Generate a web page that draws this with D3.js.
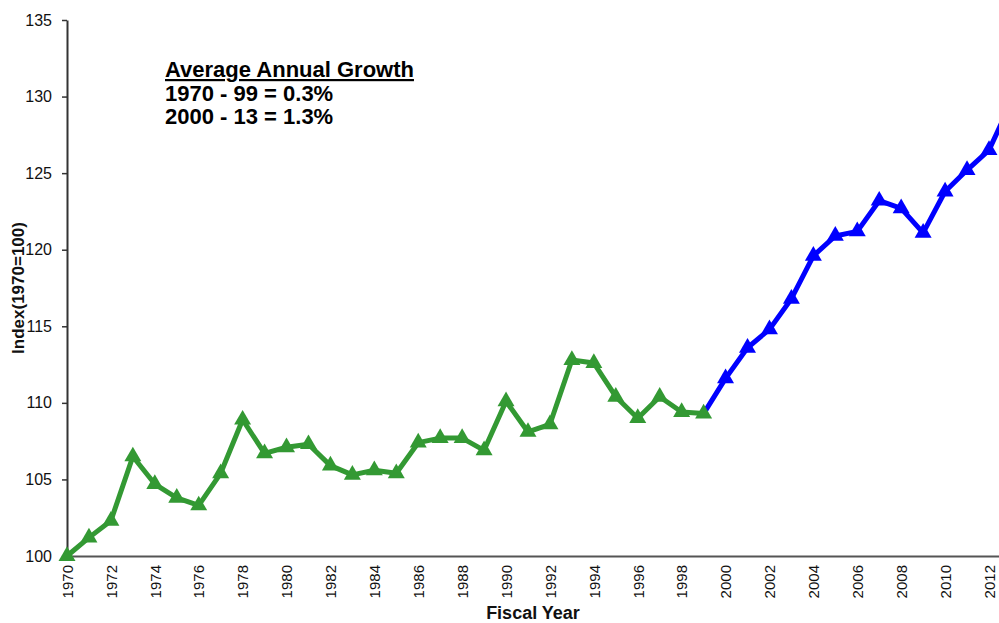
<!DOCTYPE html>
<html>
<head>
<meta charset="utf-8">
<script src="https://cdn.jsdelivr.net/npm/d3@7/dist/d3.min.js"></script>
<style>
  html, body { margin: 0; padding: 0; background: #fff; }
  svg { display: block; }
  text { font-family: "Liberation Sans", Arial, sans-serif; }
</style>
</head>
<body>
<svg id="chart" width="999" height="623"></svg>
<script>
// Fiscal years and index values (1970 = 100)
const years = [1970, 1971, 1972, 1973, 1974, 1975, 1976, 1977, 1978, 1979,
               1980, 1981, 1982, 1983, 1984, 1985, 1986, 1987, 1988, 1989,
               1990, 1991, 1992, 1993, 1994, 1995, 1996, 1997, 1998, 1999,
               2000, 2001, 2002, 2003, 2004, 2005, 2006, 2007, 2008, 2009,
               2010, 2011, 2012, 2013];
const indexValues = [100.0, 101.2, 102.3, 106.5, 104.7, 103.8, 103.3, 105.4, 108.9, 106.7,
                     107.1, 107.3, 105.9, 105.3, 105.6, 105.4, 107.4, 107.7, 107.7, 106.9,
                     110.1, 108.1, 108.6, 112.8, 112.6, 110.4, 109.0, 110.4, 109.4, 109.3,
                     111.6, 113.6, 114.8, 116.8, 119.6, 120.9, 121.2, 123.2, 122.7, 121.1,
                     123.8, 125.2, 126.5, 129.6];
const earlyEnd = 1999;          // last year of the 1970-99 period
const yTicks = [100, 105, 110, 115, 120, 125, 130, 135];
const xTicks = d3.range(1970, 2014, 2);
const noteLines = ["Average Annual Growth", "1970 - 99 = 0.3%", "2000 - 13 = 1.3%"];

const data = years.map((yr, i) => ({ year: yr, value: indexValues[i] }));
const early = data.filter(d => d.year <= earlyEnd);
const late = data.filter(d => d.year >= earlyEnd);

const svg = d3.select("#chart");
const plotLeft = 67, plotTop = 20, plotBottom = 556;
const fontStack = "'Liberation Sans', Arial, sans-serif";

const x = d3.scaleLinear().domain([1970, 2013]).range([plotLeft, plotLeft + 43 * 21.952]);
const y = d3.scaleLinear().domain([100, 135]).range([plotBottom, plotTop]);

// y axis
const yAxis = svg.append("g")
  .attr("transform", `translate(${plotLeft},0)`)
  .call(d3.axisLeft(y).tickValues(yTicks).tickSize(5).tickSizeOuter(0).tickPadding(10));
yAxis.select(".domain").attr("stroke", "#333").attr("stroke-width", 2);
yAxis.selectAll(".tick line").attr("stroke", "#333").attr("stroke-width", 1.5);
yAxis.selectAll(".tick text")
  .style("font-size", "16px").style("font-family", fontStack).attr("fill", "#111");

// x axis
const xAxis = svg.append("g")
  .attr("transform", `translate(0,${plotBottom})`)
  .call(d3.axisBottom(x).tickValues(xTicks).tickFormat(d3.format("d")).tickSize(0).tickSizeOuter(0));
xAxis.select(".domain").attr("stroke", "#555").attr("stroke-width", 2);
xAxis.selectAll(".tick text")
  .style("font-size", "15px").style("font-family", fontStack).attr("fill", "#111")
  .attr("text-anchor", "end")
  .attr("transform", "rotate(-90)")
  .attr("x", -9).attr("y", 0).attr("dy", "0.35em");

// axis titles
svg.append("text")
  .attr("transform", `translate(24,${(plotTop + plotBottom) / 2}) rotate(-90)`)
  .attr("text-anchor", "middle")
  .style("font-size", "17px").attr("font-weight", "bold").attr("fill", "#111")
  .text("Index(1970=100)");

svg.append("text")
  .attr("x", 533).attr("y", 619)
  .attr("text-anchor", "middle")
  .style("font-size", "18px").attr("font-weight", "bold").attr("fill", "#111")
  .text("Fiscal Year");

// series lines
const line = d3.line().x(d => x(d.year)).y(d => y(d.value));
const green = "#339933", blue = "#0000ff";

svg.append("path").datum(late)
  .attr("d", line).attr("fill", "none")
  .attr("stroke", blue).attr("stroke-width", 5).attr("stroke-linejoin", "round");
svg.append("path").datum(early)
  .attr("d", line).attr("fill", "none")
  .attr("stroke", green).attr("stroke-width", 5).attr("stroke-linejoin", "round");

// triangle markers
const tri = d3.symbol().type(d3.symbolTriangle).size(125);
svg.append("g").selectAll("path")
  .data(data)
  .join("path")
  .attr("d", tri)
  .attr("transform", d => `translate(${x(d.year)},${y(d.value)})`)
  .attr("fill", d => d.year <= earlyEnd ? green : blue);

// growth note
const note = svg.append("g");
noteLines.forEach((t, i) => {
  note.append("text")
    .attr("x", 165).attr("y", 77 + i * 23.5)
    .style("font-size", "22px").attr("font-weight", "bold").attr("fill", "#000")
    .attr("text-decoration", i === 0 ? "underline" : null)
    .text(t);
});
</script>
</body>
</html>
